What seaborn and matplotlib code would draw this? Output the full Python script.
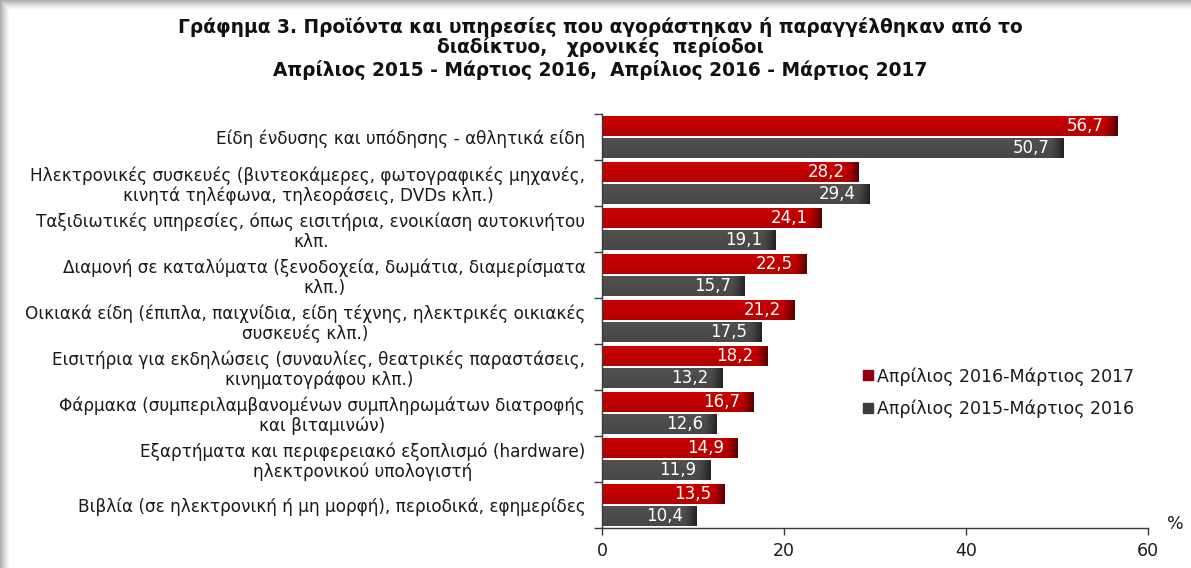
import numpy as np
import pandas as pd
import matplotlib
matplotlib.use("Agg")
import matplotlib.pyplot as plt
from matplotlib.lines import Line2D
from matplotlib.colors import to_rgb
import seaborn as sns

# ---- data -------------------------------------------------------------
categories = [
    "Είδη ένδυσης και υπόδησης - αθλητικά είδη",
    "Ηλεκτρονικές συσκευές (βιντεοκάμερες, φωτογραφικές μηχανές,\nκινητά τηλέφωνα, τηλεοράσεις, DVDs κλπ.)",
    "Ταξιδιωτικές υπηρεσίες, όπως εισιτήρια, ενοικίαση αυτοκινήτου\nκλπ.",
    "Διαμονή σε καταλύματα (ξενοδοχεία, δωμάτια, διαμερίσματα\nκλπ.)",
    "Οικιακά είδη (έπιπλα, παιχνίδια, είδη τέχνης, ηλεκτρικές οικιακές\nσυσκευές κλπ.)",
    "Εισιτήρια για εκδηλώσεις (συναυλίες, θεατρικές παραστάσεις,\nκινηματογράφου κλπ.)",
    "Φάρμακα (συμπεριλαμβανομένων συμπληρωμάτων διατροφής\nκαι βιταμινών)",
    "Εξαρτήματα και περιφερειακό εξοπλισμό (hardware)\nηλεκτρονικού υπολογιστή",
    "Βιβλία (σε ηλεκτρονική ή μη μορφή), περιοδικά, εφημερίδες",
]
period_recent = "Απρίλιος 2016-Μάρτιος 2017"
period_prior = "Απρίλιος 2015-Μάρτιος 2016"
values_recent = [56.7, 28.2, 24.1, 22.5, 21.2, 18.2, 16.7, 14.9, 13.5]
values_prior = [50.7, 29.4, 19.1, 15.7, 17.5, 13.2, 12.6, 11.9, 10.4]
x_ticks = [0, 20, 40, 60]

title_lines = [
    "Γράφημα 3. Προϊόντα και υπηρεσίες που αγοράστηκαν ή παραγγέλθηκαν από το",
    "διαδίκτυο,   χρονικές  περίοδοι",
    "Απρίλιος 2015 - Μάρτιος 2016,  Απρίλιος 2016 - Μάρτιος 2017",
]

df = pd.DataFrame({
    "category": categories * 2,
    "period": [period_recent] * len(categories) + [period_prior] * len(categories),
    "value": values_recent + values_prior,
})

# ---- style ------------------------------------------------------------
sns.set_theme(style="ticks")
plt.rcParams["font.family"] = ["DejaVu Sans"]

RED = "#BE0000"
GREY = "#4D4C4A"
palette = {period_recent: RED, period_prior: GREY}
TXT = "#1a1a1a"

W, H = 1191, 568
fig = plt.figure(figsize=(W / 100, H / 100), dpi=100)
fig.patch.set_facecolor("white")

# soft shadow along the top and left edges of the panel
bg = fig.add_axes([0, 0, 1, 1], zorder=-10)
bg.axis("off")
yy, xx = np.mgrid[0:H, 0:W]
t_top = np.clip(yy / 9.0, 0, 1)
t_left = np.clip(xx / 9.0, 0, 1)
shade = np.minimum(t_top, t_left) ** 0.8
level = 0.68 + 0.32 * shade
bg.imshow(np.dstack([level] * 3), extent=(0, 1, 0, 1), aspect="auto",
          interpolation="bilinear")
bg.set_xlim(0, 1)
bg.set_ylim(0, 1)

ax = fig.add_axes([602 / W, 1 - 528 / H, 546 / W, 414 / H])
ax.patch.set_alpha(0)

sns.barplot(
    data=df, x="value", y="category", hue="period",
    order=categories, hue_order=[period_recent, period_prior],
    palette=palette, orient="h", width=0.97, gap=0.13,
    saturation=1, errorbar=None, legend=False, ax=ax,
)

ax.set_xlim(0, 60)
ax.set_ylim(len(categories) - 0.5, -0.5)

# darkened right end on every bar
px_per_unit = 546 / 60.0
for bar in ax.patches:
    x0, y0 = bar.get_x(), bar.get_y()
    w, h = bar.get_width(), bar.get_height()
    if w <= 0:
        continue
    base = np.array(to_rgb(bar.get_facecolor()))
    w_px = w * px_per_unit
    f = np.linspace(0, 1, 400) * w_px
    ramp = np.clip((f - (w_px - 13)) / 13, 0, 1) ** 1.3
    cols = base[None, :] * (1 - 0.55 * ramp[:, None])
    vert = np.linspace(1.06, 0.94, 20)
    img = np.clip(cols[None, :, :] * vert[:, None, None], 0, 1)
    im = ax.imshow(img, extent=(x0, x0 + w, y0 + h, y0), aspect="auto",
                   interpolation="bilinear", zorder=bar.get_zorder() + 0.1)
    im.set_clip_path(bar)

ax.set_xlim(0, 60)
ax.set_ylim(len(categories) - 0.5, -0.5)

# value labels inside the bar ends
for container, vals in zip(ax.containers, [values_recent, values_prior]):
    for bar, v in zip(container, vals):
        yc = bar.get_y() + bar.get_height() / 2
        ax.annotate(f"{v:.1f}".replace(".", ","), xy=(v, yc), xytext=(-10, 0),
                    textcoords="offset points", ha="right", va="center",
                    color="white", fontsize=12, zorder=10)

# axes cosmetics
for side in ["top", "right"]:
    ax.spines[side].set_visible(False)
for side in ["left", "bottom"]:
    ax.spines[side].set_color("#3a3a3a")
    ax.spines[side].set_linewidth(1.0)

ax.set_xlabel("")
ax.set_ylabel("")
ax.set_xticks(x_ticks)
ax.set_xticklabels([str(t) for t in x_ticks], fontsize=12.5, color=TXT)
ax.tick_params(axis="x", length=5, width=1, color="#3a3a3a", pad=5,
               direction="out")

ax.set_yticks(range(len(categories)))
ax.set_yticklabels(categories, fontsize=12.2, color=TXT,
                   multialignment="center", linespacing=1.12)
ax.tick_params(axis="y", which="major", length=0, pad=12)
ax.set_yticks(np.arange(-0.5, len(categories), 1.0), minor=True)
ax.tick_params(axis="y", which="minor", length=6, width=1, color="#3a3a3a",
               direction="out")

fig.text(1175 / W, 1 - 524 / H, "%", ha="center", va="center",
         fontsize=12.5, color=TXT)

# titles
for txt, ypx in zip(title_lines, [27, 47, 70]):
    fig.text(600 / W, 1 - ypx / H, txt, ha="center", va="center",
             fontsize=13.4, fontweight="bold", color="#111111")

# legend
handles = [
    Line2D([], [], marker="s", linestyle="none", markersize=7.5,
           markerfacecolor="#8E0010", markeredgecolor="#8E0010"),
    Line2D([], [], marker="s", linestyle="none", markersize=7.5,
           markerfacecolor="#3C3C38", markeredgecolor="#3C3C38"),
]
fig.legend(handles, [period_recent, period_prior], loc="upper left",
           bbox_to_anchor=(863 / W, 1 - 367 / H), frameon=False,
           fontsize=12.5, handlelength=0.6, handletextpad=0.2,
           labelspacing=0.82, borderpad=0, borderaxespad=0,
           labelcolor=TXT)

fig.savefig("out.png", dpi=100)
